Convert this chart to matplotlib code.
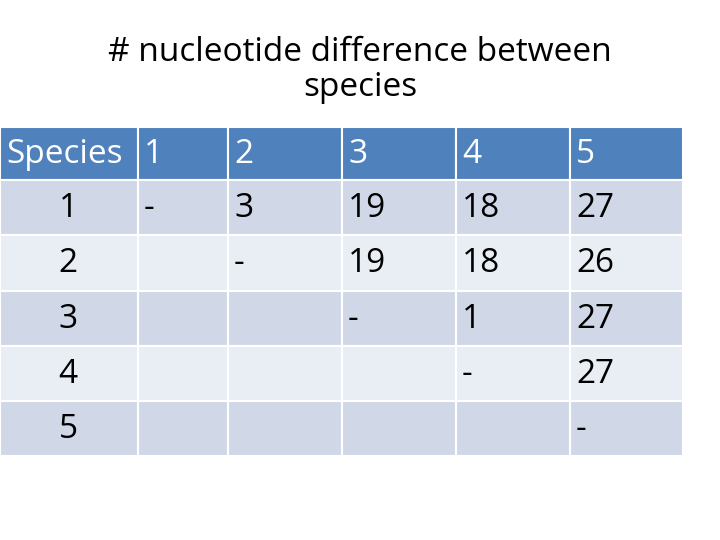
import matplotlib.pyplot as plt
from matplotlib.patches import Rectangle

title = "# nucleotide difference between\nspecies"
header = ["Species", "1", "2", "3", "4", "5"]
row_labels = ["1", "2", "3", "4", "5"]
cells = [
    ["-", "3", "19", "18", "27"],
    ["", "-", "19", "18", "26"],
    ["", "", "-", "1", "27"],
    ["", "", "", "-", "27"],
    ["", "", "", "", "-"],
]

col_x = [0, 138, 228, 342, 456, 570, 683]
row_y = [127, 180, 235, 291, 346, 401, 456]
blue = "#4F81BD"
shades = ["#D0D8E8", "#E9EDF4"]
font = "Open Sans"

fig = plt.figure(figsize=(7.2, 5.4), dpi=100)
ax = fig.add_axes([0, 0, 1, 1])
ax.set_xlim(0, 720)
ax.set_ylim(540, 0)
ax.axis("off")

ax.text(360, 70, title, ha="center", va="center", fontsize=24, family=font,
        linespacing=1.05)

for r in range(6):
    for c in range(6):
        x0, x1 = col_x[c], col_x[c + 1]
        y0, y1 = row_y[r], row_y[r + 1]
        color = blue if r == 0 else shades[(r - 1) % 2]
        ax.add_patch(Rectangle((x0, y0), x1 - x0, y1 - y0, facecolor=color,
                               edgecolor="white", linewidth=1.5))
        if r == 0:
            txt, tc = header[c], "white"
        elif c == 0:
            txt, tc = row_labels[r - 1], "black"
        else:
            txt, tc = cells[r - 1][c - 1], "black"
        ym = (y0 + y1) / 2 + 1
        if r > 0 and c == 0:
            ax.text(68, ym, txt, ha="center", va="center", fontsize=24,
                    family=font, color=tc)
        else:
            ax.text(x0 + 6, ym, txt, ha="left", va="center", fontsize=24,
                    family=font, color=tc)

fig.savefig("out.png", dpi=100)
